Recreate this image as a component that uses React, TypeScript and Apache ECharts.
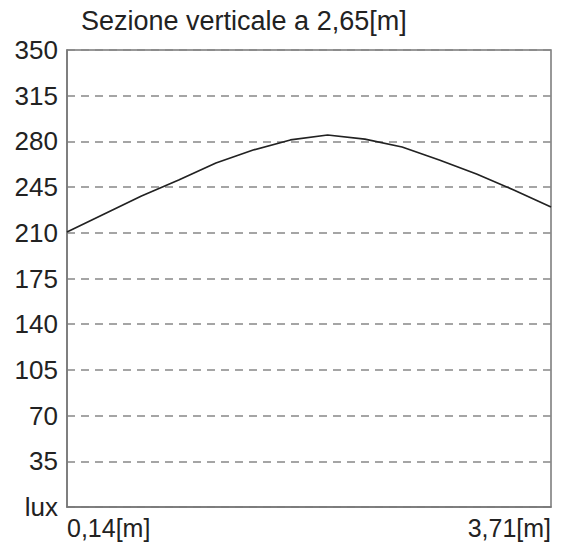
import React, { useEffect, useRef } from "react";
import * as echarts from "echarts";

const titleText = "Sezione verticale a 2,65[m]";
const xPositions = ["0,14", "0,41", "0,69", "0,96", "1,24", "1,51", "1,79", "2,06", "2,34", "2,61", "2,89", "3,16", "3,44", "3,71"];
const luxValues = [210.6, 224.4, 238.2, 250.4, 263.5, 273.4, 281.1, 284.9, 281.8, 275.7, 265.8, 255, 242.8, 229.8];
const yTicks = { min: 0, max: 350, interval: 35 };
const xUnit = "[m]";
const yUnit = "lux";

export default function App() {
  const ref = useRef<HTMLDivElement>(null);
  useEffect(() => {
    if (!ref.current) return;
    const chart = echarts.init(ref.current, undefined, { renderer: "svg" });
    const font = "'Liberation Sans', Arial, sans-serif";
    const last = xPositions.length - 1;
    chart.setOption({
      animation: false,
      backgroundColor: "#ffffff",
      title: {
        text: titleText,
        left: 81,
        top: 6,
        padding: 0,
        textStyle: { fontFamily: font, fontSize: 27, lineHeight: 30, fontWeight: "normal", color: "#222" },
      },
      grid: { left: 67, right: 20, top: 50, bottom: 35, show: true, borderColor: "#777", borderWidth: 1.5 },
      xAxis: {
        type: "category",
        data: xPositions,
        boundaryGap: false,
        axisLine: { show: true, lineStyle: { color: "#777", width: 1.5 } },
        axisTick: { show: false },
        splitLine: { show: false },
        axisLabel: {
          interval: (i: number) => i === 0 || i === last,
          formatter: (v: string) => v + xUnit,
          alignMinLabel: "left",
          alignMaxLabel: "right",
          margin: 8,
          fontFamily: font,
          fontSize: 25,
          lineHeight: 26,
          color: "#222",
          showMinLabel: true,
          showMaxLabel: true,
        },
      },
      yAxis: {
        type: "value",
        min: yTicks.min,
        max: yTicks.max,
        interval: yTicks.interval,
        axisLine: { show: true, lineStyle: { color: "#777", width: 1.5 } },
        axisTick: { show: false },
        axisLabel: {
          formatter: (v: number) => (v === 0 ? yUnit : String(v)),
          margin: 9,
          fontFamily: font,
          fontSize: 26,
          color: "#222",
        },
        splitLine: { show: true, lineStyle: { color: "#888", type: [8, 6], width: 1.5 } },
      },
      series: [
        {
          type: "line",
          data: luxValues,
          symbol: "none",
          lineStyle: { color: "#222", width: 1.7 },
        },
      ],
    });
    return () => chart.dispose();
  }, []);
  return <div ref={ref} style={{ position: "fixed", left: 0, top: 0, width: 571, height: 542 }} />;
}
